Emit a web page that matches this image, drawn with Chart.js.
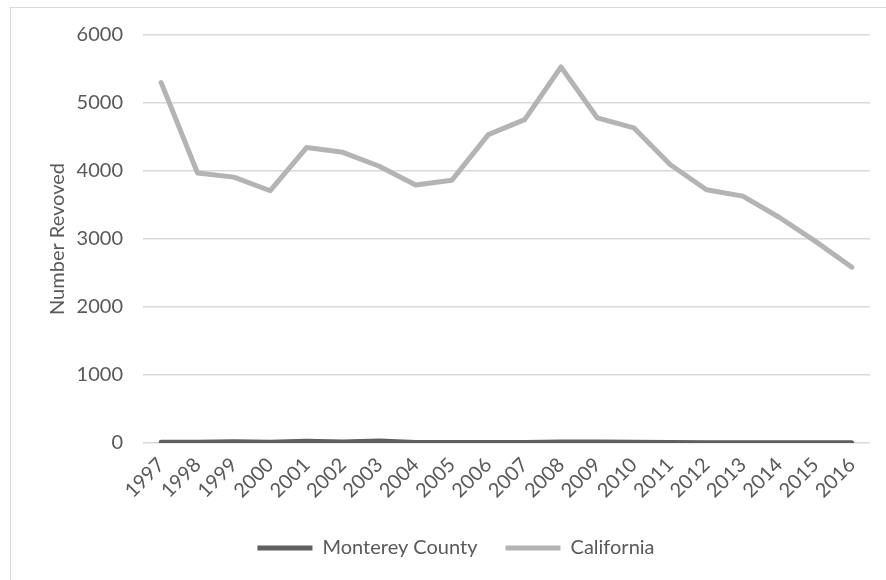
<!DOCTYPE html>
<html lang="en">
<head>
    <meta charset="UTF-8">
    <title>Number Revoked</title>
    <script src="https://cdn.jsdelivr.net/npm/chart.js"></script>
    <style>
        html, body { margin: 0; padding: 0; background: #fff; }
        #frame {
            position: absolute; left: 10px; top: 7px;
            width: 900px; height: 600px;
            border-left: 1px solid #d9d9d9;
            border-top: 1px solid #d9d9d9;
        }
        #wrap { position: absolute; left: 0; top: 0; width: 886px; height: 580px; }
    </style>
</head>
<body>
<div id="frame"></div>
<div id="wrap"><canvas id="chart"></canvas></div>

<script>
    // data
    const years = ['1997', '1998', '1999', '2000', '2001', '2002', '2003', '2004', '2005', '2006',
                   '2007', '2008', '2009', '2010', '2011', '2012', '2013', '2014', '2015', '2016'];
    const montereyCounty = [12, 10, 18, 12, 25, 15, 30, 8, 6, 7, 8, 14, 15, 12, 6, 5, 5, 4, 4, 3];
    const california = [5300, 3970, 3910, 3710, 4345, 4275, 4070, 3795, 3865, 4535,
                        4755, 5530, 4780, 4635, 4095, 3725, 3630, 3320, 2965, 2585];
    const yTicks = [0, 1000, 2000, 3000, 4000, 5000, 6000];

    const textColor = '#595959';
    const fontFamily = 'Lato, "Open Sans", sans-serif';

    const ctx = document.getElementById('chart').getContext('2d');
    const chart = new Chart(ctx, {
        type: 'line',
        data: {
            labels: years,
            datasets: [{
                label: 'Monterey County',
                data: montereyCounty,
                borderColor: '#5f5f5f',
                backgroundColor: '#5f5f5f',
                borderWidth: 5,
                pointRadius: 0,
                tension: 0,
                borderCapStyle: 'round',
                borderJoinStyle: 'round'
            }, {
                label: 'California',
                data: california,
                borderColor: '#b4b4b4',
                backgroundColor: '#b4b4b4',
                borderWidth: 5,
                pointRadius: 0,
                tension: 0,
                borderCapStyle: 'round',
                borderJoinStyle: 'round'
            }]
        },
        options: {
            responsive: true,
            maintainAspectRatio: false,
            animation: false,
            layout: { padding: { left: 42, right: 16, top: 35, bottom: 12 } },
            plugins: {
                tooltip: { enabled: false },
                legend: {
                    position: 'bottom',
                    labels: {
                        color: textColor,
                        font: { family: fontFamily, size: 20 },
                        usePointStyle: true,
                        pointStyle: 'line',
                        pointStyleWidth: 55,
                        padding: 28
                    }
                }
            },
            scales: {
                x: {
                    offset: true,
                    grid: { display: false },
                    border: { display: false },
                    ticks: {
                        color: textColor,
                        font: { family: fontFamily, size: 20 },
                        minRotation: 45,
                        maxRotation: 45,
                        autoSkip: false,
                        padding: 2
                    },
                    afterFit: scale => { scale.height = 67; }
                },
                y: {
                    min: 0,
                    max: 6000,
                    afterBuildTicks: scale => { scale.ticks = yTicks.map(v => ({ value: v })); },
                    grid: { color: '#d9d9d9', lineWidth: 1.5, drawTicks: false },
                    border: { display: false },
                    ticks: {
                        color: textColor,
                        font: { family: fontFamily, size: 20 },
                        padding: 20,
                        callback: v => String(v)
                    },
                    title: {
                        display: true,
                        text: 'Number Revoved',
                        color: textColor,
                        font: { family: fontFamily, size: 20 },
                        padding: 4
                    },
                    afterFit: scale => { scale.width = 101; }
                }
            }
        }
    });
</script>
</body>
</html>
